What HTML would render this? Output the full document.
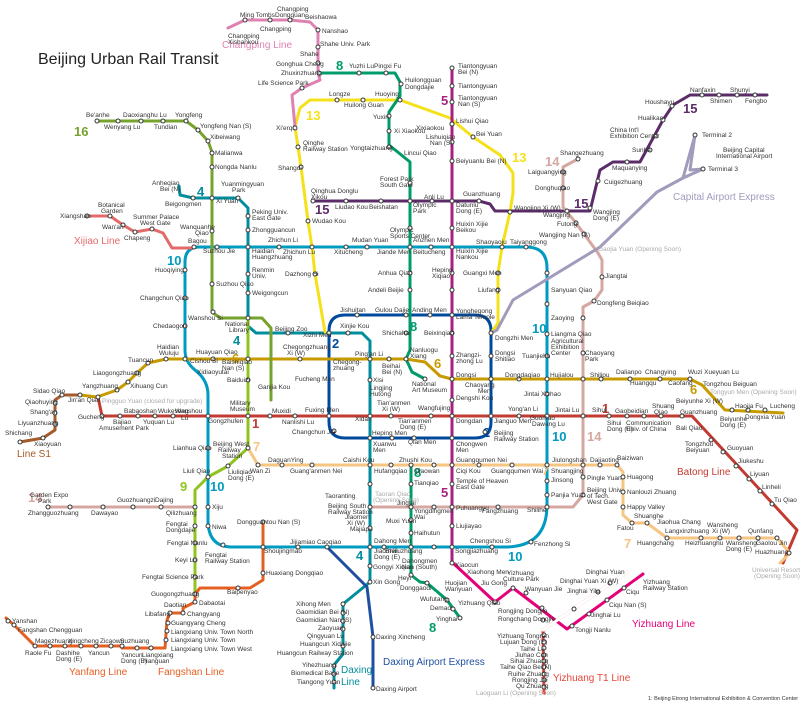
<!DOCTYPE html>
<html><head><meta charset="utf-8"><style>
html,body{margin:0;padding:0;background:#fff}
svg{display:block}
text{font-family:"Liberation Sans",sans-serif;font-size:6.5px;fill:#333}
.n{font-weight:bold;font-size:13px}
.l{font-size:10px}
polyline,path{fill:none;stroke-width:3;stroke-linejoin:round;stroke-linecap:round}
circle{fill:#fff;stroke:#333;stroke-width:1}
</style></head><body>
<svg width="800" height="704" viewBox="0 0 800 704" xmlns="http://www.w3.org/2000/svg">
<text x="38" y="64" style="font-size:16px;fill:#222">Beijing Urban Rail Transit</text>

<!-- Line 10 -->
<path stroke="#009BC0" d="M194,247 H526 Q547,247 547,268 V505 Q547,547 505,547 H232 Q208,547 208,520 V395 Q208,380 195,370 Q185,362 185,350 V262 Q185,247 200,247"/>
<!-- Line 2 -->
<path stroke="#004A9D" d="M345,315 H475 Q491,315 491,331 V422 Q491,438 475,438 H345 Q329,438 329,422 V331 Q329,315 345,315Z"/>
<!-- Line 1 / Batong -->
<polyline stroke="#C23A30" points="98,397 102,416 692,416 797,530 783,563"/>
<!-- Line 6 -->
<polyline stroke="#C79A00" points="80,395 97,397 117,390 128,382 137,373 148,363 166,359 406,359 425,362 440,376 452,379 690,379 702,385 725,410 783,413"/>
<!-- Line S1 -->
<polyline stroke="#A45A2A" points="20,442 43,438 55,430 55,400 62,395 80,395"/>
<!-- Line 4 & Daxing -->
<polyline stroke="#008E9C" points="179,186 180,195 193,198 238,198 248,208 248,326 256,333 362,333 370,341 370,582 343,604 343,654 334,665 334,688"/>
<!-- Line 16 -->
<polyline stroke="#76A32E" points="97,121 186,121 198,130 208,141 212,152 212,312 220,318 262,318 271,328 271,400"/>
<!-- Line 9 -->
<polyline stroke="#8FC31F" points="248,318 248,448 228,466 208,477 195,490 195,594"/>
<!-- Line 13 -->
<polyline stroke="#F5E11A" points="325,332 315,274 312,247 308,221 301,167 298,147 295,127 300,108 310,100 400,100 450,118 473,137 500,155 513,173 513,193 510,212 502,247 498,273 498,323 491,333"/>
<!-- Line 8 -->
<polyline stroke="#009B6B" points="319,73 395,73 400,82 400,96 389,112 389,145 410,162 410,350 406,359 412,372 425,379"/>
<polyline stroke="#009B6B" points="411,465 411,575 420,582 427,583 447,600 460,618"/>
<!-- Line 5 -->
<polyline stroke="#A6217F" points="452,68 452,563"/>
<!-- Yizhuang -->
<polyline stroke="#E40077" points="453,563 495,602 513,588 567,629 643,574"/>
<!-- Yizhuang T1 -->
<polyline stroke="#E8463A" stroke-width="3.5" points="627,572 543,630 544,693"/>
<polyline stroke="#fff" stroke-width="1" points="627,572 543,630"/>
<!-- Line 15 -->
<polyline stroke="#5B2C68" points="313,201 479,201 490,204 495,211 590,211 600,170 613,162 640,162 663,120 673,105 690,95 767,95"/>
<!-- Line 14 -->
<polyline stroke="#D5A7A1" points="578,159 563,167 563,207 567,212 576,223 584,234 598,253 602,260 602,290 594,301 583,307 583,495 573,507 370,507"/>
<polyline stroke="#D5A7A1" points="48,507 195,507"/>
<!-- Line 7 -->
<polyline stroke="#F6C582" points="248,448 258,465 617,465 623,472 623,515 632,523 647,523 667,538 777,538 790,553 780,563"/>
<!-- Xijiao -->
<polyline stroke="#E46A6A" points="87,216 110,216 123,225 135,232 152,229 163,233 172,248 193,248"/>
<!-- Changping -->
<polyline stroke="#DE82B2" points="228,28 245,20 290,20 310,22 318,30 318,73 320,80 302,88 292,95 295,127"/>
<!-- Fangshan -->
<polyline stroke="#E46022" points="263,522 263,580 250,588 200,588 195,594 195,602 183,608 183,613 170,613 167,620 165,648 122,648"/>
<!-- Yanfang -->
<polyline stroke="#E46022" points="122,646 35,646 14,625 6,618"/>
<!-- Daxing airport express -->
<polyline stroke="#1E4FA0" points="327,547 367,587 373,637 373,688"/>
<!-- Capital airport express -->
<polyline stroke="#A29BBB" points="491,333 497,330 513,300 600,247 657,192 683,178 703,169"/>
<polyline stroke="#A29BBB" points="683,178 695,135 690,170 703,169"/>

<!-- line numbers -->
<text class="n" x="74" y="136" style="fill:#76A32E">16</text>
<text class="n" x="197" y="196" style="fill:#008E9C">4</text>
<text class="n" x="167" y="265" style="fill:#009BC0">10</text>
<text class="n" x="306" y="120" style="fill:#F5E11A">13</text>
<text class="n" x="336" y="70" style="fill:#009B6B">8</text>
<text class="n" x="441" y="105" style="fill:#A6217F">5</text>
<text class="n" x="512" y="162" style="fill:#F5E11A">13</text>
<text class="n" x="545" y="166" style="fill:#D5A7A1">14</text>
<text class="n" x="574" y="208" style="fill:#5B2C68">15</text>
<text class="n" x="315" y="214" style="fill:#5B2C68">15</text>
<text class="n" x="683" y="113" style="fill:#5B2C68">15</text>
<text class="n" x="233" y="345" style="fill:#008E9C">4</text>
<text class="n" x="332" y="348" style="fill:#004A9D">2</text>
<text class="n" x="232" y="363" style="fill:#C79A00">6</text>
<text class="n" x="434" y="368" style="fill:#C79A00">6</text>
<text class="n" x="410" y="331" style="fill:#009B6B">8</text>
<text class="n" x="532" y="333" style="fill:#009BC0">10</text>
<text class="n" x="252" y="428" style="fill:#C23A30">1</text>
<text class="n" x="602" y="413" style="fill:#C23A30">1</text>
<text class="n" x="253" y="451" style="fill:#F6C582">7</text>
<text class="n" x="180" y="491" style="fill:#8FC31F">9</text>
<text class="n" x="210" y="491" style="fill:#009BC0">10</text>
<text class="n" x="28" y="502" style="fill:#D5A7A1">14</text>
<text class="n" x="483" y="437" style="fill:#004A9D">2</text>
<text class="n" x="552" y="441" style="fill:#009BC0">10</text>
<text class="n" x="587" y="441" style="fill:#D5A7A1">14</text>
<text class="n" x="414" y="477" style="fill:#009B6B">8</text>
<text class="n" x="542" y="475" style="fill:#F6C582">7</text>
<text class="n" x="441" y="497" style="fill:#A6217F">5</text>
<text class="n" x="508" y="561" style="fill:#009BC0">10</text>
<text class="n" x="624" y="548" style="fill:#F6C582">7</text>
<text class="n" x="356" y="560" style="fill:#008E9C">4</text>
<text class="n" x="429" y="632" style="fill:#009B6B">8</text>
<text class="n" x="690" y="394" style="fill:#C79A00">6</text>

<!-- line names -->
<text class="l" x="222" y="48" style="fill:#DE82B2">Changping Line</text>
<text class="l" x="74" y="244" style="fill:#E46A6A">Xijiao Line</text>
<text class="l" x="17" y="457" style="fill:#A45A2A">Line S1</text>
<text class="l" x="673" y="200" style="fill:#A29BBB">Capital Airport Express</text>
<text class="l" x="677" y="475" style="fill:#C23A30">Batong Line</text>
<text class="l" x="69" y="675" style="fill:#E46022">Yanfang Line</text>
<text class="l" x="158" y="675" style="fill:#E46022">Fangshan Line</text>
<text class="l" x="341" y="673" style="fill:#008E9C">Daxing</text>
<text class="l" x="341" y="685" style="fill:#008E9C">Line</text>
<text class="l" x="383" y="665" style="fill:#1E4FA0">Daxing Airport Express</text>
<text class="l" x="632" y="627" style="fill:#E40077">Yizhuang Line</text>
<text class="l" x="553" y="681" style="fill:#E8463A">Yizhuang T1 Line</text>
<text x="648" y="700" style="font-size:5.5px">1: Beijing Etrong International Exhibition &amp; Convention Center</text>

<!-- stations -->
<g>
<circle cx="194" cy="247" r="2"/><circle cx="217" cy="247" r="2"/><circle cx="248" cy="247" r="2"/><circle cx="279" cy="247" r="2"/><circle cx="312" cy="247" r="2"/><circle cx="346" cy="247" r="2"/><circle cx="367" cy="247" r="2"/><circle cx="410" cy="247" r="2"/><circle cx="431" cy="247" r="2"/><circle cx="452" cy="247" r="2"/><circle cx="502" cy="247" r="2"/><circle cx="526" cy="247" r="2"/>
<circle cx="547" cy="273" r="2"/><circle cx="547" cy="304" r="2"/><circle cx="547" cy="334" r="2"/><circle cx="547" cy="356" r="2"/><circle cx="547" cy="379" r="2"/><circle cx="547" cy="394" r="2"/><circle cx="547" cy="416" r="2"/><circle cx="547" cy="465" r="2"/><circle cx="547" cy="481" r="2"/><circle cx="547" cy="495" r="2"/><circle cx="531" cy="542" r="2"/><circle cx="492" cy="547" r="2"/><circle cx="452" cy="547" r="2"/><circle cx="434" cy="547" r="2"/><circle cx="411" cy="547" r="2"/><circle cx="384" cy="547" r="2"/><circle cx="370" cy="547" r="2"/><circle cx="327" cy="547" r="2"/><circle cx="298" cy="547" r="2"/><circle cx="263" cy="547" r="2"/><circle cx="223" cy="545" r="2"/><circle cx="208" cy="526" r="2"/><circle cx="208" cy="507" r="2"/><circle cx="208" cy="477" r="2"/><circle cx="208" cy="448" r="2"/><circle cx="208" cy="416" r="2"/><circle cx="185" cy="359" r="2"/><circle cx="185" cy="326" r="2"/><circle cx="185" cy="298" r="2"/><circle cx="185" cy="270" r="2"/>
<circle cx="102" cy="416" r="2"/><circle cx="120" cy="416" r="2"/><circle cx="138" cy="416" r="2"/><circle cx="155" cy="416" r="2"/><circle cx="173" cy="416" r="2"/><circle cx="248" cy="416" r="2"/><circle cx="270" cy="416" r="2"/><circle cx="295" cy="416" r="2"/><circle cx="329" cy="416" r="2"/><circle cx="370" cy="416" r="2"/><circle cx="391" cy="416" r="2"/><circle cx="431" cy="416" r="2"/><circle cx="452" cy="416" r="2"/><circle cx="491" cy="416" r="2"/><circle cx="519" cy="416" r="2"/><circle cx="583" cy="416" r="2"/><circle cx="609" cy="416" r="2"/><circle cx="627" cy="416" r="2"/><circle cx="644" cy="416" r="2"/><circle cx="661" cy="416" r="2"/><circle cx="682" cy="416" r="2"/><circle cx="711" cy="440" r="2"/><circle cx="723" cy="452" r="2"/><circle cx="736" cy="466" r="2"/><circle cx="749" cy="479" r="2"/><circle cx="760" cy="491" r="2"/><circle cx="772" cy="504" r="2"/>
<circle cx="166" cy="359" r="2"/><circle cx="213" cy="359" r="2"/><circle cx="248" cy="359" r="2"/><circle cx="300" cy="359" r="2"/><circle cx="370" cy="359" r="2"/><circle cx="389" cy="359" r="2"/><circle cx="406" cy="359" r="2"/><circle cx="452" cy="379" r="2"/><circle cx="491" cy="379" r="2"/><circle cx="519" cy="379" r="2"/><circle cx="583" cy="379" r="2"/><circle cx="601" cy="379" r="2"/><circle cx="630" cy="379" r="2"/><circle cx="660" cy="379" r="2"/><circle cx="690" cy="379" r="2"/><circle cx="732" cy="410" r="2"/><circle cx="748" cy="410" r="2"/><circle cx="765" cy="410" r="2"/>
<circle cx="370" cy="380" r="2"/><circle cx="370" cy="438" r="2"/><circle cx="370" cy="465" r="2"/><circle cx="370" cy="484" r="2"/><circle cx="370" cy="507" r="2"/><circle cx="370" cy="528" r="2"/><circle cx="370" cy="566" r="2"/><circle cx="370" cy="582" r="2"/><circle cx="343" cy="604" r="2"/><circle cx="343" cy="613" r="2"/><circle cx="343" cy="621" r="2"/><circle cx="343" cy="629" r="2"/><circle cx="343" cy="646" r="2"/><circle cx="334" cy="666" r="2"/><circle cx="334" cy="674" r="2"/><circle cx="334" cy="682" r="2"/>
<circle cx="452" cy="68" r="2"/><circle cx="452" cy="86" r="2"/><circle cx="452" cy="102" r="2"/><circle cx="452" cy="124" r="2"/><circle cx="452" cy="142" r="2"/><circle cx="452" cy="161" r="2"/><circle cx="452" cy="201" r="2"/><circle cx="452" cy="228" r="2"/><circle cx="452" cy="273" r="2"/><circle cx="452" cy="290" r="2"/><circle cx="452" cy="315" r="2"/><circle cx="452" cy="333" r="2"/><circle cx="452" cy="356" r="2"/><circle cx="452" cy="400" r="2"/><circle cx="452" cy="438" r="2"/><circle cx="452" cy="465" r="2"/><circle cx="452" cy="484" r="2"/><circle cx="452" cy="507" r="2"/><circle cx="452" cy="526" r="2"/><circle cx="452" cy="563" r="2"/>
<circle cx="410" cy="183" r="2"/><circle cx="410" cy="201" r="2"/><circle cx="410" cy="228" r="2"/><circle cx="410" cy="273" r="2"/><circle cx="410" cy="290" r="2"/><circle cx="406" cy="315" r="2"/><circle cx="406" cy="333" r="2"/><circle cx="425" cy="379" r="2"/><circle cx="411" cy="465" r="2"/><circle cx="411" cy="484" r="2"/><circle cx="411" cy="507" r="2"/><circle cx="411" cy="520" r="2"/><circle cx="411" cy="533" r="2"/><circle cx="411" cy="575" r="2"/><circle cx="427" cy="583" r="2"/><circle cx="447" cy="600" r="2"/><circle cx="453" cy="609" r="2"/><circle cx="460" cy="618" r="2"/>
<circle cx="389" cy="116" r="2"/><circle cx="389" cy="131" r="2"/><circle cx="389" cy="147" r="2"/><circle cx="319" cy="73" r="2"/><circle cx="359" cy="73" r="2"/><circle cx="386" cy="73" r="2"/><circle cx="401" cy="84" r="2"/>
<circle cx="337" cy="100" r="2"/><circle cx="363" cy="100" r="2"/><circle cx="400" cy="100" r="2"/><circle cx="452" cy="124" r="2"/><circle cx="473" cy="137" r="2"/><circle cx="510" cy="212" r="2"/><circle cx="498" cy="273" r="2"/><circle cx="498" cy="290" r="2"/><circle cx="295" cy="128" r="2"/><circle cx="298" cy="147" r="2"/><circle cx="301" cy="167" r="2"/><circle cx="308" cy="221" r="2"/><circle cx="315" cy="274" r="2"/>
<circle cx="313" cy="201" r="2"/><circle cx="346" cy="201" r="2"/><circle cx="381" cy="201" r="2"/><circle cx="432" cy="201" r="2"/><circle cx="479" cy="201" r="2"/><circle cx="567" cy="211" r="2"/><circle cx="590" cy="208" r="2"/><circle cx="598" cy="181" r="2"/><circle cx="627" cy="162" r="2"/><circle cx="650" cy="150" r="2"/><circle cx="656" cy="136" r="2"/><circle cx="663" cy="120" r="2"/><circle cx="672" cy="106" r="2"/><circle cx="702" cy="95" r="2"/><circle cx="719" cy="95" r="2"/><circle cx="737" cy="95" r="2"/><circle cx="755" cy="95" r="2"/>
<circle cx="578" cy="159" r="2"/><circle cx="563" cy="172" r="2"/><circle cx="563" cy="188" r="2"/><circle cx="576" cy="223" r="2"/><circle cx="584" cy="234" r="2"/><circle cx="602" cy="277" r="2"/><circle cx="594" cy="301" r="2"/><circle cx="583" cy="318" r="2"/><circle cx="583" cy="353" r="2"/><circle cx="583" cy="477" r="2"/><circle cx="583" cy="495" r="2"/><circle cx="547" cy="507" r="2"/><circle cx="498" cy="507" r="2"/><circle cx="434" cy="507" r="2"/><circle cx="411" cy="507" r="2"/><circle cx="48" cy="507" r="2"/><circle cx="70" cy="507" r="2"/><circle cx="103" cy="507" r="2"/><circle cx="133" cy="507" r="2"/><circle cx="161" cy="507" r="2"/><circle cx="195" cy="507" r="2"/>
<circle cx="258" cy="465" r="2"/><circle cx="282" cy="465" r="2"/><circle cx="312" cy="465" r="2"/><circle cx="391" cy="465" r="2"/><circle cx="434" cy="465" r="2"/><circle cx="479" cy="465" r="2"/><circle cx="512" cy="465" r="2"/><circle cx="583" cy="465" r="2"/><circle cx="600" cy="465" r="2"/><circle cx="617" cy="465" r="2"/><circle cx="623" cy="477" r="2"/><circle cx="623" cy="492" r="2"/><circle cx="623" cy="507" r="2"/><circle cx="632" cy="523" r="2"/><circle cx="647" cy="523" r="2"/><circle cx="667" cy="538" r="2"/><circle cx="701" cy="538" r="2"/><circle cx="720" cy="538" r="2"/><circle cx="739" cy="538" r="2"/><circle cx="758" cy="538" r="2"/><circle cx="777" cy="538" r="2"/><circle cx="789" cy="553" r="2"/>
<circle cx="195" cy="526" r="2"/><circle cx="195" cy="543" r="2"/><circle cx="195" cy="560" r="2"/><circle cx="195" cy="577" r="2"/><circle cx="195" cy="594" r="2"/><circle cx="228" cy="466" r="2"/><circle cx="248" cy="448" r="2"/><circle cx="248" cy="380" r="2"/>
<circle cx="263" cy="522" r="2"/><circle cx="263" cy="573" r="2"/><circle cx="238" cy="588" r="2"/><circle cx="195" cy="602" r="2"/><circle cx="183" cy="613" r="2"/><circle cx="170" cy="613" r="2"/><circle cx="168" cy="623" r="2"/><circle cx="167" cy="631" r="2"/><circle cx="166" cy="640" r="2"/><circle cx="151" cy="648" r="2"/><circle cx="137" cy="648" r="2"/><circle cx="122" cy="646" r="2"/><circle cx="111" cy="646" r="2"/><circle cx="96" cy="646" r="2"/><circle cx="81" cy="646" r="2"/><circle cx="65" cy="646" r="2"/><circle cx="50" cy="646" r="2"/><circle cx="35" cy="646" r="2"/><circle cx="14" cy="625" r="2"/><circle cx="8" cy="621" r="2"/>
<circle cx="495" cy="602" r="2"/><circle cx="513" cy="588" r="2"/><circle cx="526" cy="593" r="2"/><circle cx="542" cy="608" r="2"/><circle cx="572" cy="626" r="2"/><circle cx="589" cy="614" r="2"/><circle cx="607" cy="600" r="2"/><circle cx="624" cy="588" r="2"/><circle cx="543" cy="620" r="2"/><circle cx="574" cy="609" r="2"/><circle cx="598" cy="592" r="2"/><circle cx="610" cy="583" r="2"/>
<circle cx="544" cy="635" r="2"/><circle cx="544" cy="642" r="2"/><circle cx="544" cy="648" r="2"/><circle cx="544" cy="655" r="2"/><circle cx="544" cy="661" r="2"/><circle cx="544" cy="667" r="2"/><circle cx="544" cy="674" r="2"/><circle cx="544" cy="680" r="2"/><circle cx="544" cy="687" r="2"/>
<circle cx="373" cy="637" r="2"/><circle cx="373" cy="688" r="2"/><circle cx="695" cy="135" r="2"/><circle cx="703" cy="169" r="2"/>
<circle cx="87" cy="216" r="2"/><circle cx="110" cy="216" r="2"/><circle cx="123" cy="225" r="2"/><circle cx="135" cy="232" r="2"/><circle cx="152" cy="229" r="2"/>
<circle cx="97" cy="121" r="2"/><circle cx="118" cy="121" r="2"/><circle cx="141" cy="121" r="2"/><circle cx="163" cy="121" r="2"/><circle cx="186" cy="121" r="2"/><circle cx="198" cy="130" r="2"/><circle cx="208" cy="141" r="2"/><circle cx="212" cy="153" r="2"/><circle cx="212" cy="167" r="2"/><circle cx="212" cy="198" r="2"/><circle cx="212" cy="231" r="2"/><circle cx="212" cy="284" r="2"/><circle cx="213" cy="312" r="2"/><circle cx="248" cy="318" r="2"/>
<circle cx="193" cy="198" r="2"/><circle cx="238" cy="198" r="2"/><circle cx="248" cy="216" r="2"/><circle cx="248" cy="230" r="2"/><circle cx="248" cy="274" r="2"/><circle cx="248" cy="293" r="2"/><circle cx="288" cy="333" r="2"/><circle cx="329" cy="333" r="2"/><circle cx="348" cy="333" r="2"/><circle cx="357" cy="315" r="2"/><circle cx="430" cy="315" r="2"/><circle cx="491" cy="333" r="2"/><circle cx="491" cy="356" r="2"/><circle cx="485" cy="432" r="2"/><circle cx="414" cy="438" r="2"/><circle cx="392" cy="438" r="2"/><circle cx="334" cy="431" r="2"/>
<circle cx="318" cy="63" r="2"/><circle cx="302" cy="88" r="2"/><circle cx="245" cy="20" r="2"/><circle cx="270" cy="20" r="2"/><circle cx="290" cy="20" r="2"/><circle cx="318" cy="30" r="2"/><circle cx="318" cy="47" r="2"/>
<circle cx="20" cy="442" r="2"/><circle cx="43" cy="438" r="2"/><circle cx="55" cy="424" r="2"/><circle cx="55" cy="413" r="2"/><circle cx="55" cy="403" r="2"/><circle cx="62" cy="395" r="2"/><circle cx="80" cy="395" r="2"/><circle cx="98" cy="397" r="2"/><circle cx="117" cy="390" r="2"/><circle cx="128" cy="382" r="2"/><circle cx="137" cy="373" r="2"/><circle cx="148" cy="363" r="2"/>
</g>

<!-- labels -->
<g>
<text x="240" y="17">Ming Tombs</text><text x="277" y="11">Changping</text><text x="275" y="17">Dongguan</text><text x="305" y="19">Beishaowa</text>
<text x="228" y="38">Changping</text><text x="228" y="44">Xishankou</text><text x="260" y="31">Changping</text><text x="322" y="33">Nanshao</text><text x="320" y="46">Shahe Univ. Park</text><text x="300" y="56">Shahe</text>
<text x="276" y="66">Gonghua Cheng</text><text x="281" y="75">Zhuxinzhuang</text><text x="258" y="85">Life Science Park</text><text x="349" y="68">Yuzhi Lu</text><text x="374" y="68">Pingxi Fu</text>
<text x="405" y="82">Huilongguan</text><text x="405" y="89">Dongdajie</text><text x="329" y="96">Longze</text><text x="344" y="107">Huilong Guan</text><text x="375" y="96">Huoying</text>
<text x="373" y="119">Yuxin</text><text x="394" y="133">Xi Xiaokou</text><text x="350" y="150">Yongtaizhuang</text><text x="276" y="130">Xi'erqi</text><text x="303" y="145">Qinghe</text><text x="303" y="151">Railway Station</text><text x="278" y="170">Shangdi</text>
<text x="458" y="68">Tiantongyuan</text><text x="458" y="74">Bei (N)</text><text x="458" y="88">Tiantongyuan</text><text x="458" y="100">Tiantongyuan</text><text x="458" y="106">Nan (S)</text><text x="456" y="123">Lishui Qiao</text><text x="426" y="139">Lishuiqiao</text><text x="430" y="145">Nan (S)</text><text x="476" y="136">Bei Yuan</text><text x="456" y="163">Beiyuanlu Bei (N)</text>
<text x="416" y="130">Xixiaokou</text><text x="404" y="155">Lincui Qiao</text><text x="380" y="181">Forest Park</text><text x="380" y="187">South Gate</text><text x="413" y="207">Olympic</text><text x="413" y="213">Park</text><text x="424" y="199">Anli Lu</text><text x="463" y="196">Guanzhuang</text><text x="456" y="207">Datunlu</text><text x="456" y="213">Dong (E)</text>
<text x="514" y="210">Wangjing Xi (W)</text><text x="543" y="217">Wangjing</text><text x="593" y="214">Wangjing</text><text x="593" y="220">Dong (E)</text><text x="557" y="226">Futong</text><text x="539" y="237">Wangjing Nan (S)</text><text x="598" y="251" style="fill:#aaa">Gaojia Yuan (Opening Soon)</text>
<text x="560" y="155">Shangezhuang</text><text x="528" y="174">Laiguangying</text><text x="535" y="190">Donghuqiao</text><text x="604" y="184">Cuigezhuang</text><text x="612" y="170">Maquanying</text><text x="632" y="152">Sunhe</text><text x="610" y="132">China Int'l</text><text x="610" y="138">Exhibition Center</text><text x="638" y="120">Hualikan</text><text x="645" y="104">Houshayu</text><text x="690" y="92">Nanfaxin</text><text x="710" y="103">Shimen</text><text x="730" y="92">Shunyi</text><text x="745" y="103">Fengbo</text>
<text x="702" y="137">Terminal 2</text><text x="723" y="152">Beijing Capital</text><text x="716" y="158">International Airport</text><text x="708" y="171">Terminal 3</text>
<text x="311" y="193">Qinghua Donglu</text><text x="311" y="199">Xikou</text><text x="335" y="209">Liudao Kou</text><text x="369" y="209">Beishatan</text><text x="390" y="232">Olympic</text><text x="390" y="238">Sports Center</text><text x="312" y="223">Wudao Kou</text>
<text x="268" y="242">Zhichun Li</text><text x="283" y="254">Zhichun Lu</text><text x="334" y="254">Xitucheng</text><text x="352" y="242">Mudan Yuan</text><text x="377" y="254">Jiande Men</text><text x="413" y="242">Anzhen Men</text><text x="413" y="254">Beitucheng</text><text x="456" y="253">Huixin Xijie</text><text x="456" y="259">Nankou</text><text x="476" y="244">Shaoyaoju</text><text x="510" y="244">Taiyanggong</text>
<text x="456" y="226">Huixin Xijie</text><text x="456" y="232">Beikou</text><text x="432" y="272">Heping</text><text x="432" y="278">Xiqiao</text><text x="463" y="275">Guangxi Men</text><text x="478" y="292">Liufang</text><text x="378" y="275">Anhua Qiao</text><text x="368" y="292">Andeli Beijie</text>
<text x="203" y="253">Suzhou Jie</text><text x="252" y="253">Haidian</text><text x="252" y="259">Huangzhuang</text><text x="252" y="272">Renmin</text><text x="252" y="278">Univ.</text><text x="252" y="295">Weigongcun</text><text x="285" y="276">Dazhong Si</text><text x="252" y="214">Peking Univ.</text><text x="252" y="220">East Gate</text><text x="252" y="232">Zhongguancun</text><text x="221" y="186">Yuanmingyuan</text><text x="232" y="192">Park</text><text x="216" y="203">Xi Yuan</text><text x="165" y="206">Beigongmen</text><text x="152" y="185">Anheqiao</text><text x="160" y="191">Bei (N)</text>
<text x="86" y="117">Be'anhe</text><text x="104" y="129">Wenyang Lu</text><text x="123" y="117">Daoxianghu Lu</text><text x="154" y="129">Tundian</text><text x="175" y="117">Yongfeng</text><text x="200" y="128">Yongfeng Nan (S)</text><text x="210" y="139">Xibeiwang</text><text x="215" y="155">Malianwa</text><text x="215" y="169">Nongda Nanlu</text><text x="180" y="229">Wanquanhe</text><text x="195" y="235">Qiao</text><text x="216" y="286">Suzhou Qiao</text><text x="188" y="320">Wanshou Si</text><text x="225" y="326">National</text><text x="229" y="332">Library</text>
<text x="60" y="218">Xiangshan</text><text x="98" y="207">Botanical</text><text x="101" y="213">Garden</text><text x="102" y="229">Wan'an</text><text x="124" y="240">Chapeng</text><text x="133" y="219">Summer Palace</text><text x="140" y="225">West Gate</text><text x="188" y="243">Bagou</text>
<text x="155" y="272">Huoqiying</text><text x="140" y="300">Changchun Qiao</text><text x="153" y="328">Chedaogou</text><text x="157" y="349">Haidian</text><text x="159" y="355">Wuluju</text><text x="128" y="362">Tuancun</text><text x="93" y="375">Liaogongzhuang</text><text x="190" y="363">Cishou Si</text><text x="196" y="354">Huayuan Qiao</text><text x="197" y="374">Xidiaoyutai</text><text x="222" y="364">Baishiqiao</text><text x="222" y="370">Nan (S)</text><text x="227" y="382">Baiduizi</text><text x="258" y="389">Ganjia Kou</text><text x="275" y="331">Beijing Zoo</text><text x="303" y="337">Xizhi Men</text><text x="340" y="328">Xinjie Kou</text><text x="283" y="349">Chegongzhuang</text><text x="287" y="355">Xi (W)</text><text x="333" y="364">Chegong-</text><text x="333" y="370">zhuang</text><text x="295" y="381">Fucheng Men</text><text x="340" y="312">Jishuitan</text><text x="375" y="312">Gulou Dajie</text><text x="412" y="312">Anding Men</text><text x="382" y="335">Shichahai</text><text x="456" y="313">Yonghegong</text><text x="456" y="319">Lama Temple</text><text x="424" y="335">Beixinqiao</text><text x="495" y="340">Dongzhi Men</text>
<text x="355" y="356">Ping'an Li</text><text x="382" y="368">Beihai</text><text x="382" y="374">Bei (N)</text><text x="410" y="352">Nanluogu</text><text x="410" y="358">Xiang</text><text x="412" y="386">National</text><text x="412" y="392">Art Museum</text><text x="456" y="357">Zhangzi-</text><text x="456" y="363">zhong Lu</text><text x="495" y="355">Dongsi</text><text x="495" y="361">Shitiao</text><text x="522" y="358">Tuanjiehu</text><text x="456" y="377">Dongsi</text><text x="465" y="387">Chaoyang</text><text x="478" y="393">Men</text><text x="505" y="377">Dongdaqiao</text><text x="456" y="400">Dengshi Kou</text><text x="524" y="396">Jintai Xizhao</text><text x="550" y="377">Hujialou</text>
<text x="551" y="292">Sanyuan Qiao</text><text x="551" y="336">Liangma Qiao</text><text x="551" y="320">Zaoying</text><text x="551" y="343">Agricultural</text><text x="551" y="349">Exhibition</text><text x="551" y="355">Center</text><text x="585" y="355">Chaoyang</text><text x="585" y="361">Park</text><text x="597" y="305">Dongfeng Beiqiao</text><text x="605" y="278">Jiangtai</text>
<text x="590" y="377">Shilipu</text><text x="616" y="374">Dalianpo</text><text x="630" y="385">Huangqu</text><text x="645" y="374">Changying</text><text x="668" y="385">Caofang</text><text x="688" y="374">Wuzi Xueyuan Lu</text><text x="703" y="386">Tongzhou Beiguan</text><text x="710" y="394" style="fill:#aaa">Tongyun Men (Opening Soon)</text><text x="676" y="403">Beiyunhe Xi (W)</text><text x="735" y="408">Haojia Fu</text><text x="770" y="408">Lucheng</text><text x="720" y="421">Beiyunhe</text><text x="720" y="427">Dong (E)</text><text x="745" y="419">Dongxia Yuan</text>
<text x="592" y="412">Sihui</text><text x="615" y="413">Gaobeidian</text><text x="607" y="425">Sihui</text><text x="607" y="431">Dong (E)</text><text x="626" y="425">Communication</text><text x="626" y="431">Univ. of China</text><text x="652" y="408">Shuang</text><text x="654" y="414">Qiao</text><text x="680" y="414">Guanzhuang</text><text x="676" y="430">Bali Qiao</text><text x="685" y="446">Tongzhou</text><text x="686" y="452">Beiyuan</text><text x="727" y="450">Guoyuan</text><text x="738" y="463">Jiukeshu</text><text x="750" y="476">Liyuan</text><text x="762" y="489">Linheli</text><text x="774" y="502">Tu Qiao</text>
<text x="555" y="412">Jintai Lu</text><text x="530" y="420">Guomao</text><text x="532" y="426">Dawang Lu</text><text x="508" y="411">Yong'an Li</text><text x="494" y="423">Jianguo Men</text><text x="456" y="423">Dongdan</text><text x="494" y="435">Beijing</text><text x="494" y="441">Railway Station</text><text x="456" y="446">Chongwen</text><text x="456" y="452">Men</text>
<text x="418" y="410">Wangfujing</text><text x="377" y="405">Tian'anmen</text><text x="382" y="411">Xi (W)</text><text x="398" y="423">Tian'anmen</text><text x="400" y="429">Dong (E)</text><text x="355" y="421">Xidan</text><text x="305" y="412">Fuxing Men</text><text x="272" y="413">Muxidi</text><text x="282" y="424">Nanlishi Lu</text><text x="292" y="434">Changchun Jie</text><text x="373" y="446">Xuanwu</text><text x="373" y="452">Men</text><text x="372" y="435">Heping Men</text><text x="408" y="444">Qian Men</text><text x="370" y="390">Lingjing</text><text x="370" y="396">Hutong</text><text x="373" y="382">Xisi</text>
<text x="230" y="405">Military</text><text x="230" y="411">Museum</text><text x="208" y="423">Gongzhufen</text><text x="175" y="413">Wanshou</text><text x="181" y="420">Lu</text><text x="158" y="413">Wukesong</text><text x="143" y="424">Yuquan Lu</text><text x="124" y="413">Babaoshan</text><text x="113" y="424">Bajiao</text><text x="99" y="430">Amusement Park</text><text x="78" y="419">Gucheng</text><text x="102" y="403" style="fill:#aaa">Pingguo Yuan (closed for upgrade)</text><text x="82" y="388">Yangzhuang</text><text x="130" y="388">Xihuang Cun</text><text x="33" y="393">Sidao Qiao</text><text x="68" y="402">Jin'an Qiao</text><text x="25" y="404">Qiaohuying</text><text x="30" y="414">Shang'an</text><text x="18" y="425">Liyuanzhuang</text><text x="5" y="435">Shichang</text><text x="34" y="446">Xiaoyuan</text>
<text x="213" y="446">Beijing West</text><text x="218" y="452">Railway</text><text x="222" y="458">Station</text><text x="173" y="450">Lianhua Qiao</text><text x="183" y="473">Liuli Qiao</text><text x="228" y="474">Liuliqiao</text><text x="228" y="480">Dong (E)</text><text x="250" y="473">Wan Zi</text><text x="268" y="462">DaguanYing</text><text x="290" y="473">Guang'anmen Nei</text><text x="343" y="462">Caishi Kou</text><text x="374" y="473">Hufangqiao</text><text x="399" y="462">Zhushi Kou</text><text x="414" y="473">Qiaowan</text><text x="456" y="462">Guangqumen Nei</text><text x="456" y="473">Ciqi Kou</text><text x="491" y="473">Guangqumen Wai</text><text x="552" y="462">Jiulongshan</text><text x="551" y="473">Shuangjing</text><text x="551" y="482">Jinsong</text><text x="551" y="497">Panjia Yuan</text><text x="590" y="462">Dajiaoting</text><text x="617" y="460">Baiziwan</text><text x="587" y="480">Pingle Yuan</text><text x="587" y="492">Beijing Univ</text><text x="587" y="498">of Tech.</text><text x="587" y="504">West Gate</text><text x="627" y="479">Huagong</text><text x="627" y="494">Nanlouzi Zhuang</text><text x="627" y="509">Happy Valley</text><text x="634" y="518">Shuanghe</text><text x="617" y="530">Fatou</text><text x="657" y="524">Jiaohua Chang</text><text x="665" y="533">Langxinzhuang</text><text x="637" y="545">Huangchang</text><text x="685" y="545">Heizhuanghu</text><text x="707" y="527">Wansheng</text><text x="712" y="533">Xi (W)</text><text x="726" y="545">Wansheng</text><text x="726" y="551">Dong (E)</text><text x="748" y="533">Qunfang</text><text x="756" y="545">Gaolou Jin</text><text x="755" y="554">Huazhuang</text><text x="752" y="572" style="fill:#aaa">Universal Resort</text><text x="754" y="578" style="fill:#aaa">(Opening Soon)</text>
<text x="30" y="497">Garden Expo</text><text x="38" y="503">Park</text><text x="28" y="515">Zhangguozhuang</text><text x="91" y="515">Dawayao</text><text x="117" y="502">Guozhuangzi</text><text x="155" y="502">Dajing</text><text x="166" y="515">Qilizhuang</text><text x="212" y="509">Xiju</text><text x="166" y="526">Fengtai</text><text x="166" y="532">Dongdajie</text><text x="167" y="545">Fengtai Nanlu</text><text x="175" y="562">Keyi Lu</text><text x="142" y="579">Fengtai Science Park</text><text x="151" y="596">Guogongzhuang</text><text x="212" y="529">Niwa</text><text x="205" y="557">Fengtai</text><text x="205" y="563">Railway Station</text><text x="237" y="524">Dongguantou Nan (S)</text><text x="264" y="553">Shoujingmao</text><text x="290" y="544">Jijiamiao</text><text x="317" y="544">Caoqiao</text><text x="266" y="575">Huaxiang Dongqiao</text><text x="227" y="594">Baipenyao</text><text x="199" y="605">Dabaotai</text><text x="164" y="607">Daotian</text><text x="187" y="616">Changyang</text><text x="145" y="616">Libafang</text><text x="171" y="625">Guangyang Cheng</text><text x="171" y="634">Liangxiang Univ. Town North</text><text x="171" y="642">Liangxiang Univ. Town</text><text x="171" y="651">Liangxiang Univ. Town West</text><text x="142" y="657">Liangxiang</text><text x="143" y="663">Nanguan</text><text x="120" y="643">Suzhuang</text><text x="121" y="657">Yancun</text><text x="121" y="663">Dong (E)</text><text x="100" y="643">Zicaowu</text><text x="88" y="655">Yancun</text><text x="68" y="643">Xingcheng</text><text x="35" y="643">Magezhuang</text><text x="25" y="655">Raole Fu</text><text x="56" y="655">Dashihe</text><text x="56" y="661">Dong (E)</text><text x="12" y="623">Yanshan</text><text x="18" y="632">Fangshan Chengguan</text>
<text x="325" y="498">Taoranting</text><text x="337" y="503"> </text><text x="328" y="508">Beijing South</text><text x="328" y="514">Railway Station</text><text x="375" y="496" style="fill:#aaa">Taoran Qiao</text><text x="373" y="502" style="fill:#aaa">(Opening Soon)</text><text x="414" y="485">Tianqiao</text><text x="456" y="483">Temple of Heaven</text><text x="456" y="489">East Gate</text><text x="397" y="505">Jingtai</text><text x="456" y="510">Puhuangyu</text><text x="482" y="513">Fangzhuang</text><text x="527" y="512">Shilihe</text><text x="414" y="513">Yongdingmen</text><text x="414" y="519">Wai</text><text x="386" y="523">Muxi Yuan</text><text x="350" y="531">Majiapu</text><text x="414" y="535">Haihutun</text><text x="456" y="528">Liujiayao</text><text x="345" y="519">Jiaomen</text><text x="347" y="525">Xi (W)</text><text x="374" y="543">Dahong Men</text><text x="374" y="553">Jiaomen</text><text x="374" y="559">Dong (E)</text><text x="385" y="553">Shiliuzhuang</text><text x="455" y="553">Songjiazhuang</text><text x="470" y="543">Chengshou Si</text><text x="534" y="546">Fenzhong Si</text><text x="373" y="569">Gongyi Xiqiao</text><text x="373" y="584">Xin Gong</text><text x="402" y="563">Dahongmen</text><text x="402" y="569">Nan (South)</text><text x="398" y="580">Heyi</text><text x="400" y="590">Donggaodi</text><text x="445" y="585">Huojian</text><text x="445" y="591">Wanyuan</text><text x="420" y="601">Wufutang</text><text x="430" y="610">Demao</text><text x="436" y="621">Yinghai</text>
<text x="455" y="567">Xiaocun</text><text x="467" y="574">Xiaohong Men</text><text x="481" y="585">Jiu Gong</text><text x="458" y="605">Yizhuang Qiao</text><text x="507" y="575">Yizhuang</text><text x="503" y="581">Culture Park</text><text x="525" y="591">Wanyuan Jie</text><text x="498" y="613">Rongjing Dongjie</text><text x="498" y="621">Rongchang Dongjie</text><text x="575" y="632">Tongji Nanlu</text><text x="591" y="617">Jinghai Lu</text><text x="609" y="607">Ciqu Nan (S)</text><text x="626" y="594">Ciqu</text><text x="643" y="584">Yizhuang</text><text x="643" y="590">Railway Station</text><text x="586" y="574">Dinghai Yuan</text><text x="560" y="583">Dinghai Yuan Xi (W)</text><text x="567" y="593">Jinghai Yilu</text>
<text x="497" y="638">Yizhuang Tongren</text><text x="500" y="644">Lujuan Dong (E)</text><text x="520" y="651">Taihe Lu</text><text x="515" y="657">Jiuhao Cun</text><text x="510" y="663">Sihai Zhuang</text><text x="500" y="669">Taihe Qiao Bei(N)</text><text x="508" y="676">Ruihe Zhuang</text><text x="512" y="682">Rongjing Jie</text><text x="516" y="688">Qu Zhuang</text><text x="476" y="695" style="fill:#aaa">Laoguan Li (Opening Soon)</text>
<text x="296" y="606">Xihong Men</text><text x="296" y="614">Gaomidian Bei (N)</text><text x="296" y="622">Gaomidian Nan (S)</text><text x="318" y="630">Zaoyuan</text><text x="307" y="638">Qingyuan Lu</text><text x="300" y="646">Huangcun Xidajie</text><text x="277" y="655">Huangcun Railway Station</text><text x="302" y="667">Yihezhuang</text><text x="291" y="675">Biomedical Base</text><text x="297" y="684">Tiangong Yuan</text><text x="376" y="639">Daxing Xincheng</text><text x="376" y="691">Daxing Airport</text>
</g>
</svg>
</body></html>
